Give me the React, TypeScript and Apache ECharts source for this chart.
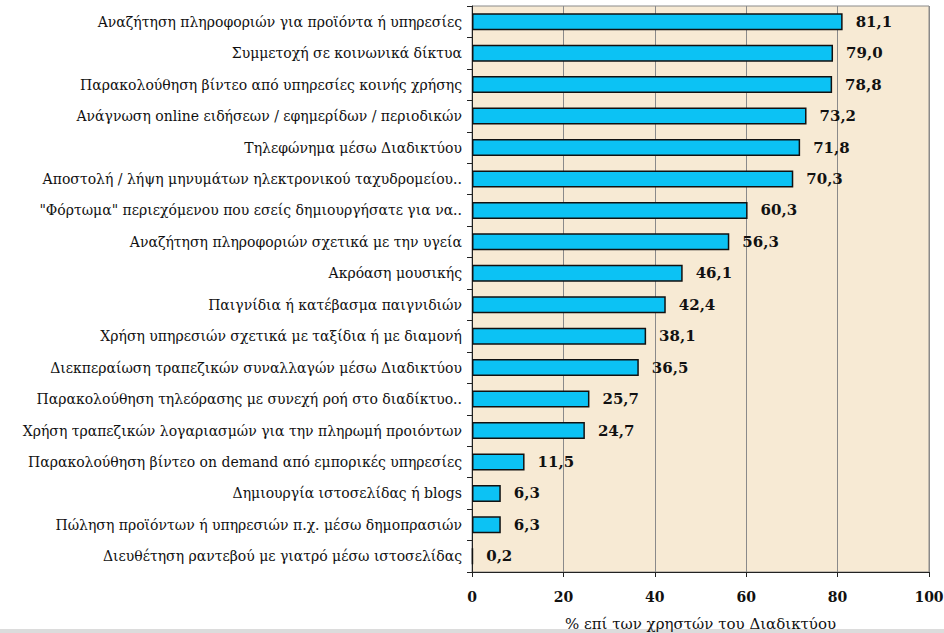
import React, { useEffect, useRef } from "react";
import * as echarts from "echarts";

const categories: string[] = [
  "Αναζήτηση πληροφοριών για προϊόντα ή υπηρεσίες",
  "Συμμετοχή σε κοινωνικά δίκτυα",
  "Παρακολούθηση βίντεο από υπηρεσίες κοινής χρήσης",
  "Ανάγνωση online ειδήσεων / εφημερίδων / περιοδικών",
  "Τηλεφώνημα μέσω Διαδικτύου",
  "Αποστολή / λήψη μηνυμάτων ηλεκτρονικού ταχυδρομείου..",
  "\"Φόρτωμα\" περιεχόμενου που εσείς δημιουργήσατε για να..",
  "Αναζήτηση πληροφοριών σχετικά με την υγεία",
  "Ακρόαση μουσικής",
  "Παιγνίδια ή κατέβασμα παιγνιδιών",
  "Χρήση υπηρεσιών σχετικά με ταξίδια ή με διαμονή",
  "Διεκπεραίωση τραπεζικών συναλλαγών μέσω Διαδικτύου",
  "Παρακολούθηση τηλεόρασης με συνεχή ροή στο διαδίκτυο..",
  "Χρήση τραπεζικών λογαριασμών για την πληρωμή προιόντων",
  "Παρακολούθηση βίντεο on demand από εμπορικές υπηρεσίες",
  "Δημιουργία ιστοσελίδας ή blogs",
  "Πώληση προϊόντων ή υπηρεσιών π.χ. μέσω δημοπρασιών",
  "Διευθέτηση ραντεβού με γιατρό μέσω ιστοσελίδας",
];

const values: number[] = [
  81.1, 79.0, 78.8, 73.2, 71.8, 70.3, 60.3, 56.3, 46.1, 42.4, 38.1, 36.5, 25.7,
  24.7, 11.5, 6.3, 6.3, 0.2,
];

const xTicks: number[] = [0, 20, 40, 60, 80, 100];
const axisTitle = "% επί των χρηστών του Διαδικτύου";

export default function App() {
  const ref = useRef<HTMLDivElement>(null);
  useEffect(() => {
    if (!ref.current) return;
    const chart = echarts.init(ref.current, undefined, { renderer: "svg" });
    const serif = "DejaVu Serif";
    chart.setOption({
      animation: false,
      backgroundColor: "#ffffff",
      graphic: [
        {
          type: "rect",
          left: 0,
          top: 629,
          shape: { width: 944, height: 4 },
          style: { fill: "#dcdcdc" },
          silent: true,
        },
      ],
      grid: {
        left: 472,
        right: 15,
        top: 6,
        bottom: 61,
        outerBoundsMode: "none",
        containLabel: false,
        show: true,
        backgroundColor: "#F7EAD4",
        borderColor: "#8a8a8a",
        borderWidth: 1,
      },
      xAxis: {
        type: "value",
        min: xTicks[0],
        max: xTicks[xTicks.length - 1],
        interval: 20,
        axisLine: { show: true, lineStyle: { color: "#222", width: 1 } },
        axisTick: { show: true, inside: false, length: 5, lineStyle: { color: "#222" } },
        splitLine: { show: true, lineStyle: { color: "#8a8a8a", width: 1 } },
        axisLabel: {
          margin: 18,
          fontFamily: serif,
          fontWeight: "bold",
          fontSize: 14,
          color: "#111",
        },
        name: axisTitle,
        nameLocation: "middle",
        nameGap: 44,
        nameTextStyle: {
          fontFamily: serif,
          fontSize: 15,
          color: "#111",
        },
      },
      yAxis: {
        type: "category",
        data: categories,
        inverse: true,
        axisLine: { show: true, lineStyle: { color: "#222", width: 1 } },
        axisTick: { show: true, inside: false, length: 5, lineStyle: { color: "#222" } },
        axisLabel: {
          margin: 10,
          fontFamily: serif,
          fontSize: 14,
          color: "#111",
        },
      },
      series: [
        {
          type: "bar",
          data: values,
          barWidth: 17,
          itemStyle: {
            color: "#0CC2F4",
            borderColor: "#111",
            borderWidth: 1.5,
          },
          label: {
            show: true,
            position: "right",
            distance: 13,
            fontFamily: serif,
            fontWeight: "bold",
            fontSize: 15,
            color: "#111",
            formatter: (p: any) => Number(p.value).toFixed(1).replace(".", ","),
          },
        },
      ],
    });
    return () => chart.dispose();
  }, []);
  return (
    <div
      ref={ref}
      style={{ position: "fixed", left: 0, top: 0, width: 944, height: 633 }}
    />
  );
}
